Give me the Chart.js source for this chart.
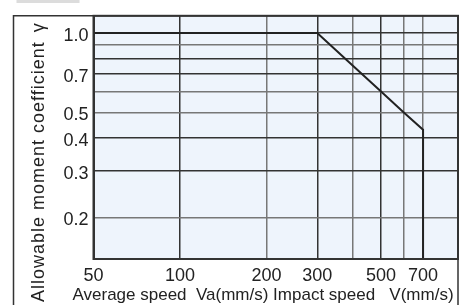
<!DOCTYPE html>
<html>
<head>
<meta charset="utf-8">
<script src="https://cdn.jsdelivr.net/npm/chart.js@4"></script>
<style>
  html, body { margin: 0; padding: 0; background: #fff; }
  #wrap { width: 465px; height: 305px; }
</style>
</head>
<body>
<div id="wrap"><canvas id="grafico" width="465" height="305"></canvas></div>
<script>
// speed (mm/s) vs allowable moment coefficient
const speeds = [50, 300, 400, 500, 600, 700, 700];
const gammas = [1.0, 1.0, 0.75, 0.6, 0.5, 0.43, 0.139];

const xGrid = [50, 100, 200, 300, 400, 500, 600, 700];
const xLabels = [50, 100, 200, 300, 500, 700];
const yGrid = [0.2, 0.3, 0.4, 0.5, 0.6, 0.7, 0.8, 0.9, 1.0];
const yLabels = [0.2, 0.3, 0.4, 0.5, 0.7, 1.0];

const xDark = [100, 300, 500];
const yDark = [1.0, 0.8, 0.7, 0.4, 0.3];

const xTitle = 'Average speed  Va(mm/s) Impact speed   V(mm/s)';
const yTitle = 'Allowable moment coefficient';

const ink = '#222';
const fuente = 'Liberation Sans, Arial, sans-serif';

const fondo = {
    id: 'fondo',
    beforeDraw(chart) {
        const { ctx, chartArea: a } = chart;
        ctx.save();
        ctx.fillStyle = '#dcdcdc';
        ctx.fillRect(a.left - 77, 0, 63, 3);
        ctx.fillStyle = '#eef4fc';
        ctx.fillRect(a.left, a.top, a.right - a.left, a.bottom - a.top);
        ctx.restore();
    },
    afterDraw(chart) {
        const { ctx, chartArea: a } = chart;
        ctx.save();
        ctx.strokeStyle = '#333';
        ctx.lineWidth = 2;
        ctx.strokeRect(a.left, a.top, a.right - a.left, a.bottom - a.top);
        // outer frame
        ctx.lineWidth = 1.5;
        ctx.beginPath();
        ctx.moveTo(a.left - 80, chart.height);
        ctx.lineTo(a.left - 80, a.top);
        ctx.lineTo(a.right, a.top);
        ctx.moveTo(a.right, a.bottom);
        ctx.lineTo(a.right, chart.height);
        ctx.stroke();

        ctx.fillStyle = ink;
        ctx.font = '17px ' + fuente;
        ctx.textAlign = 'left';
        ctx.textBaseline = 'middle';
        ctx.fillText(xTitle, a.left - 21, a.bottom + 36);

        ctx.translate(a.left - 54, chart.height - 3);
        ctx.rotate(-Math.PI / 2);
        ctx.font = '18px ' + fuente;
        ctx.letterSpacing = '1px';
        ctx.fillText(yTitle, 0, 0);
        const w = ctx.measureText(yTitle).width;
        ctx.fillText('γ', w + 9, 0);
        ctx.restore();
    }
};

const lista = new Chart(document.getElementById('grafico'), {
    type: 'line',
    data: {
        datasets: [{
            data: speeds.map((s, i) => ({ x: s, y: gammas[i] })),
            borderColor: ink,
            borderWidth: 2,
            pointRadius: 0,
            tension: 0,
            fill: false
        }]
    },
    options: {
        responsive: false,
        animation: false,
        layout: { padding: { top: 10, right: 7, left: 0, bottom: 0 } },
        plugins: { legend: { display: false }, tooltip: { enabled: false } },
        scales: {
            x: {
                type: 'logarithmic',
                min: 50,
                max: 926,
                afterBuildTicks: (scale) => { scale.ticks = xGrid.map(v => ({ value: v })); },
                afterFit: (scale) => { scale.height = 46; },
                ticks: {
                    autoSkip: false,
                    maxRotation: 0,
                    padding: 6,
                    color: ink,
                    font: { family: fuente, size: 18 },
                    callback: (v) => xLabels.includes(v) ? String(v) : ''
                },
                grid: {
                    drawTicks: false,
                    lineWidth: 1.5,
                    color: (c) => xDark.includes(c.tick && c.tick.value) ? '#333' : '#777'
                },
                border: { color: '#333', width: 2 }
            },
            y: {
                type: 'logarithmic',
                min: 0.139,
                max: 1.163,
                afterBuildTicks: (scale) => { scale.ticks = yGrid.map(v => ({ value: v })); },
                afterFit: (scale) => { scale.width = 93.5; },
                ticks: {
                    autoSkip: false,
                    padding: 5,
                    labelOffset: 3,
                    color: ink,
                    font: { family: fuente, size: 18 },
                    callback: (v) => yLabels.some(l => Math.abs(l - v) < 1e-9) ? v.toFixed(1) : ''
                },
                grid: {
                    drawTicks: false,
                    lineWidth: 1.5,
                    color: (c) => yDark.some(l => c.tick && Math.abs(l - c.tick.value) < 1e-9) ? '#333' : '#777'
                },
                border: { color: '#333', width: 2 }
            }
        }
    },
    plugins: [fondo]
});
</script>
</body>
</html>
